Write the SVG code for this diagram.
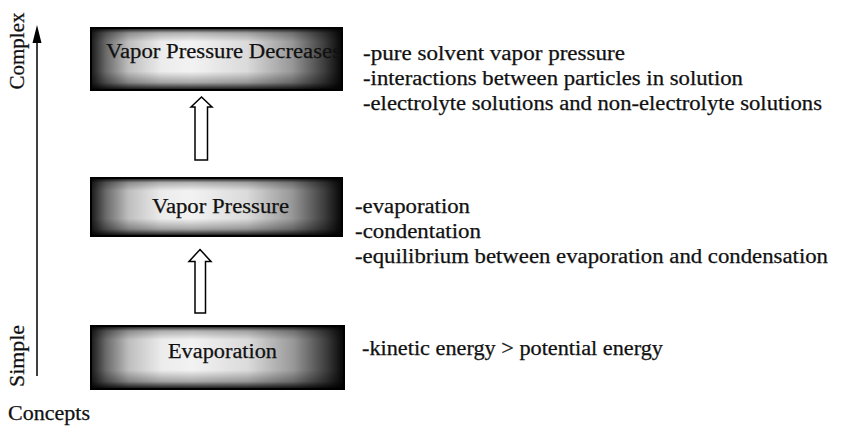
<svg xmlns="http://www.w3.org/2000/svg" width="844" height="433" viewBox="0 0 844 433">
<defs>
<linearGradient id="gh" x1="0" y1="0" x2="1" y2="0">
<stop offset="0" stop-color="#1a1a1a"/>
<stop offset="0.06" stop-color="#707070"/>
<stop offset="0.15" stop-color="#c8c8c8"/>
<stop offset="0.28" stop-color="#f8f8f8"/>
<stop offset="0.4" stop-color="#ffffff"/>
<stop offset="0.62" stop-color="#e6e6e6"/>
<stop offset="0.8" stop-color="#a0a0a0"/>
<stop offset="0.93" stop-color="#404040"/>
<stop offset="1" stop-color="#050505"/>
</linearGradient>
<linearGradient id="gv" x1="0" y1="0" x2="0" y2="1">
<stop offset="0" stop-color="#000" stop-opacity="0.95"/>
<stop offset="0.08" stop-color="#000" stop-opacity="0.3"/>
<stop offset="0.22" stop-color="#000" stop-opacity="0.05"/>
<stop offset="0.7" stop-color="#000" stop-opacity="0.05"/>
<stop offset="0.88" stop-color="#000" stop-opacity="0.35"/>
<stop offset="1" stop-color="#000" stop-opacity="0.95"/>
</linearGradient>
<clipPath id="c1"><rect x="91" y="28" width="251" height="62"/></clipPath>
</defs>
<style>
.t{font-family:"Liberation Serif","DejaVu Serif",serif;font-size:20px;fill:#111;stroke:#111;stroke-width:0.25}
.bg{fill:url(#gh)}
.ov{fill:url(#gv)}
.bd{fill:none;stroke:#000;stroke-width:2}
.ba{fill:#fff;stroke:#000;stroke-width:1.5;stroke-linejoin:miter}
</style>
<rect width="844" height="433" fill="#fff"/>
<g id="axis">
<line x1="37" y1="40" x2="37" y2="376" stroke="#000" stroke-width="1.5"/>
<polygon points="37,25 32.5,43 41.5,43" fill="#000"/>
<text class="t" transform="translate(24,51) rotate(-90)" text-anchor="middle" textLength="77" lengthAdjust="spacingAndGlyphs">Complex</text>
<text class="t" transform="translate(24,356) rotate(-90)" text-anchor="middle" textLength="62" lengthAdjust="spacingAndGlyphs">Simple</text>
<text class="t" x="8" y="420" textLength="82" lengthAdjust="spacingAndGlyphs">Concepts</text>
</g>
<g id="node-vpd">
<rect class="bg" x="91" y="28" width="251" height="62"/>
<rect class="ov" x="91" y="28" width="251" height="62"/>
<g clip-path="url(#c1)"><text class="t" x="106" y="58" textLength="235" lengthAdjust="spacingAndGlyphs">Vapor Pressure Decreases</text></g>
<rect class="bd" x="91" y="28" width="251" height="62"/>
<text class="t" x="363" y="60" textLength="262" lengthAdjust="spacingAndGlyphs">-pure solvent vapor pressure</text>
<text class="t" x="363" y="85" textLength="380" lengthAdjust="spacingAndGlyphs">-interactions between particles in solution</text>
<text class="t" x="363" y="110" textLength="459" lengthAdjust="spacingAndGlyphs">-electrolyte solutions and non-electrolyte solutions</text>
</g>
<g id="node-vp">
<rect class="bg" x="91" y="178" width="251" height="58"/>
<rect class="ov" x="91" y="178" width="251" height="58"/>
<text class="t" x="152" y="213" textLength="137" lengthAdjust="spacingAndGlyphs">Vapor Pressure</text>
<rect class="bd" x="91" y="178" width="251" height="58"/>
<text class="t" x="355" y="213" textLength="115" lengthAdjust="spacingAndGlyphs">-evaporation</text>
<text class="t" x="355" y="238" textLength="126" lengthAdjust="spacingAndGlyphs">-condentation</text>
<text class="t" x="355" y="263" textLength="473" lengthAdjust="spacingAndGlyphs">-equilibrium between evaporation and condensation</text>
</g>
<g id="node-ev">
<rect class="bg" x="91" y="326" width="253" height="63"/>
<rect class="ov" x="91" y="326" width="253" height="63"/>
<text class="t" x="168" y="358" textLength="109" lengthAdjust="spacingAndGlyphs">Evaporation</text>
<rect class="bd" x="91" y="326" width="253" height="63"/>
<text class="t" x="362" y="355" textLength="301" lengthAdjust="spacingAndGlyphs">-kinetic energy &gt; potential energy</text>
</g>
<g id="connectors">
<polygon class="ba" points="201.5,97 212,107 207.5,107 207.5,160 195,160 195,107 191,107"/>
<polygon class="ba" points="200,249.5 211,261.5 205.5,261.5 205.5,313 195,313 195,261.5 189,261.5"/>
</g>
</svg>
